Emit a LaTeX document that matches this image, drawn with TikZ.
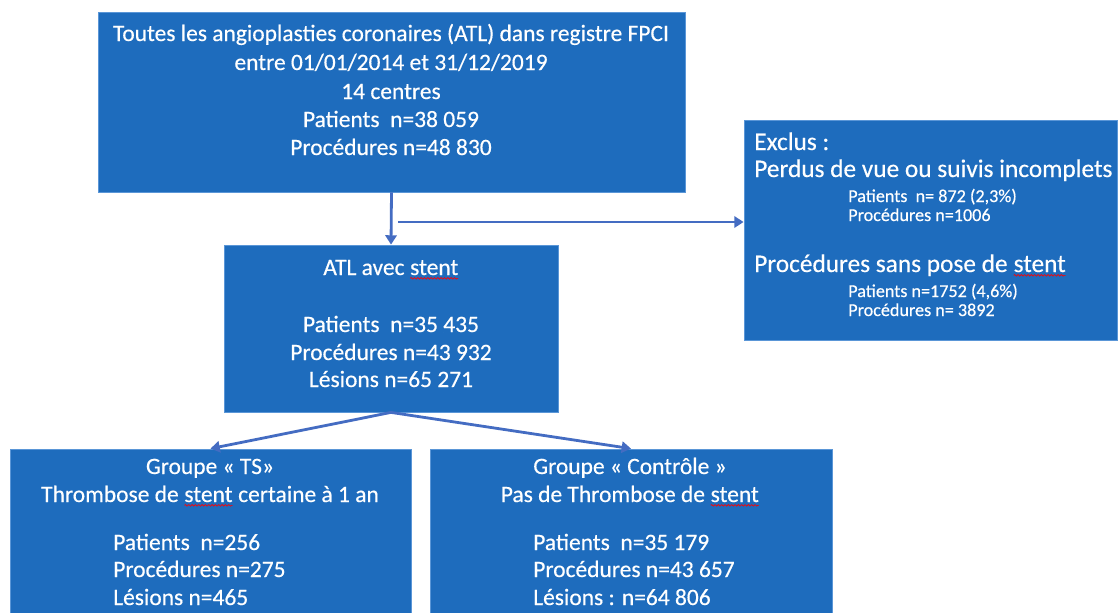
\documentclass[tikz,border=0pt]{standalone}
\usepackage{fontspec}
\setmainfont{Carlito}[FakeBold=0.4]
\usetikzlibrary{fit,arrows.meta,decorations.pathmorphing}
\definecolor{boxblue}{RGB}{30,108,189}
\definecolor{boxedge}{RGB}{90,150,215}
\definecolor{arrblue}{RGB}{68,108,194}
\newcommand\sperr[1]{\tikz[baseline=(sw.base)]{\node[inner sep=0pt,outer sep=0pt,anchor=base](sw){#1};\draw[red,line width=0.5pt,decorate,decoration={snake,amplitude=0.6pt,segment length=2.5pt}]([yshift=-2.5pt]sw.base west)--([yshift=-2.5pt]sw.base east);}}
\tikzset{
  box/.style={draw=boxedge, line width=0.6pt, fill=boxblue, inner sep=0pt},
  big/.style={text=white, inner sep=0pt, anchor=base, font=\fontsize{17.6}{20}\selectfont},
  bigl/.style={big, anchor=base west},
  exbig/.style={text=white, inner sep=0pt, anchor=base west, font=\fontsize{19}{22}\selectfont},
  small/.style={text=white, inner sep=0pt, anchor=base west, font=\fontsize{13.6}{16}\selectfont},
  arr/.style={draw=arrblue, line width=2.1pt, -{Triangle[length=7pt,width=8.5pt]}}
}
\begin{document}
\begin{tikzpicture}[x=0.75pt,y=-0.75pt]
\useasboundingbox (0,0) rectangle (1118,612);
% boxes
\node[box, fit={(98,12) (685,192)}] (top) {};
\node[box, fit={(744,120) (1117,340)}] (excl) {};
\node[box, fit={(224,245) (558,412)}] (atl) {};
\node[box, fit={(10,449) (411,614)}] (ts) {};
\node[box, fit={(430,449) (832,614)}] (ctl) {};
% top text
\node[big] (t1) at (391,41) {Toutes les angioplasties coronaires (ATL) dans registre FPCI};
\node[big] (t2) at (391,70) {entre 01/01/2014 et 31/12/2019};
\node[big] (t3) at (391,99) {14 centres};
\node[big] (t4) at (391,127) {Patients\ \ n=38 059};
\node[big] (t5) at (391,155) {Procédures n=48 830};
% exclus text
\node[exbig] (e1) at (754,150) {Exclus :};
\node[exbig] (e2) at (754,177) {Perdus de vue ou suivis incomplets};
\node[small] (e3) at (848,202) {Patients\ \ n= 872 (2,3\%)};
\node[small] (e4) at (848,221) {Procédures n=1006};
\node[exbig] (e5) at (754,272) {Procédures sans pose de \sperr{stent}};
\node[small] (e6) at (848,297) {Patients n=1752 (4,6\%)};
\node[small] (e7) at (848,316) {Procédures n= 3892};
% ATL text
\node[big] (a1) at (391,275) {ATL avec \sperr{stent}};
\node[big] (a2) at (391,332) {Patients\ \ n=35 435};
\node[big] (a3) at (391,360) {Procédures n=43 932};
\node[big] (a4) at (391,387) {Lésions n=65 271};
% TS text
\node[big] (s1) at (210,474) {Groupe « TS»};
\node[big] (s2) at (210,502) {Thrombose de \sperr{stent} certaine à 1 an};
\node[bigl] (s3) at (113,550) {Patients\ \ n=256};
\node[bigl] (s4) at (113,577) {Procédures n=275};
\node[bigl] (s5) at (113,605) {Lésions n=465};
% Controle text
\node[big] (c1) at (630,474) {Groupe « Contrôle »};
\node[big] (c2) at (630,502) {Pas de Thrombose de \sperr{stent}};
\node[bigl] (c3) at (533,550) {Patients\ \ n=35 179};
\node[bigl] (c4) at (533,577) {Procédures n=43 657};
\node[bigl] (c5) at (533,605) {Lésions : n=64 806};
% connectors
\coordinate (hs) at (398,222);
\draw[arr] (top.south) -- (atl.north);
\draw[arr] (hs) -- (hs -| excl.west);
\draw[arr] (atl.south) -- (ts.north);
\draw[arr] (atl.south) -- (ctl.north);
\end{tikzpicture}
\end{document}
